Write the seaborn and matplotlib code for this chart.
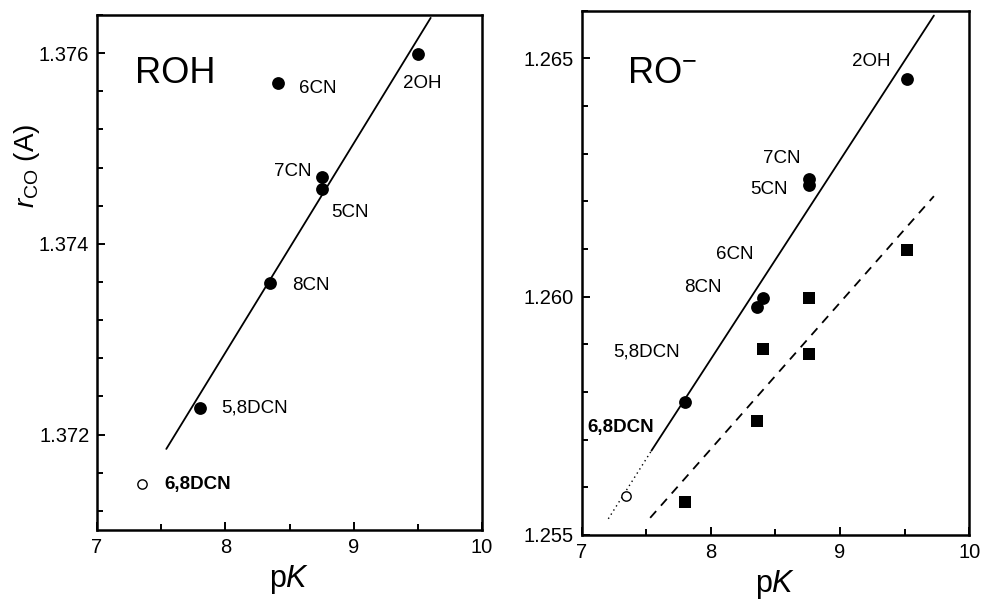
import numpy as np
import pandas as pd
import matplotlib
matplotlib.use('Agg')
import matplotlib.pyplot as plt
import seaborn as sns
from matplotlib.ticker import MultipleLocator, FormatStrFormatter

sns.set_theme(style='white')
plt.rcParams['font.family'] = ['Liberation Sans', 'DejaVu Sans']
plt.rcParams['mathtext.fontset'] = 'custom'
plt.rcParams['mathtext.rm'] = 'Liberation Sans'
plt.rcParams['mathtext.it'] = 'Liberation Sans:italic'
plt.rcParams['mathtext.bf'] = 'Liberation Sans:bold'
plt.rcParams['text.color'] = 'black'
plt.rcParams['axes.labelcolor'] = 'black'
plt.rcParams['xtick.color'] = 'black'
plt.rcParams['ytick.color'] = 'black'

# ---------------- data: ROH panel ----------------
roh_names = ['2OH', '6CN', '7CN', '5CN', '8CN', '5,8DCN']
roh_pk = [9.50, 8.41, 8.75, 8.75, 8.35, 7.80]
roh_r = [1.37599, 1.37569, 1.37470, 1.37458, 1.37359, 1.37228]
roh_open_name = ['6,8DCN']
roh_open_pk = [7.35]
roh_open_r = [1.37148]
roh_fit_pk = [7.54, 9.60]
roh_fit_r = [1.37185, 1.37637]

# ---------------- data: RO- panel ----------------
ro_names = ['2OH', '7CN', '5CN', '6CN', '8CN', '5,8DCN']
ro_pk = [9.515, 8.76, 8.76, 8.405, 8.355, 7.80]
ro_r = [1.26456, 1.26248, 1.26235, 1.25998, 1.25978, 1.25780]
ro_open_name = ['6,8DCN']
ro_open_pk = [7.34]
ro_open_r = [1.25581]
ro_sq_pk = [9.515, 8.76, 8.40, 8.76, 8.355, 7.80]
ro_sq_r = [1.26098, 1.25998, 1.25890, 1.25879, 1.25740, 1.25570]
ro_fit_pk = [7.54, 9.726]
ro_fit_r = [1.25677, 1.26590]
ro_ext_pk = [7.206, 7.54]
ro_ext_r = [1.25534, 1.25677]
ro_sq_fit_pk = [7.53, 9.726]
ro_sq_fit_r = [1.25536, 1.26211]

# label placements (left edge, vertical centre) in data units
roh_label_pos = {'2OH': (9.384, 1.37568), '6CN': (8.572, 1.37563),
                 '7CN': (8.379, 1.37476), '5CN': (8.822, 1.37433),
                 '8CN': (8.521, 1.37356), '5,8DCN': (7.966, 1.37228),
                 '6,8DCN': (7.523, 1.37148)}
ro_label_pos = {'2OH': (9.089, 1.26494), '7CN': (8.406, 1.26290),
                '5CN': (8.308, 1.26224), '6CN': (8.039, 1.26089),
                '8CN': (7.792, 1.26020), '5,8DCN': (7.245, 1.25883),
                '6,8DCN': (7.044, 1.25726)}

fig = plt.figure(figsize=(9.82, 6.04), dpi=100)
ax1 = fig.add_axes([97/982, 1-530/604, 385/982, 515/604])
ax2 = fig.add_axes([581.7/982, 1-535/604, 387.6/982, 524.2/604])

FS_TICK = 14.5
FS_LAB = 13.5

def style(ax):
    for s in ax.spines.values():
        s.set_linewidth(1.8)
        s.set_color('black')
    ax.tick_params(axis='both', which='both', direction='in', top=False,
                   right=False, left=True, bottom=True, color='black',
                   width=1.4, labelsize=FS_TICK, labelcolor='black')
    ax.tick_params(axis='both', which='major', length=6)
    ax.tick_params(axis='both', which='minor', length=4)
    ax.tick_params(axis='y', which='both', pad=5.5)
    ax.tick_params(axis='x', which='both', pad=6)
    ax.xaxis.set_major_locator(MultipleLocator(1))
    ax.xaxis.set_minor_locator(MultipleLocator(0.5))
    ax.set_xlim(7, 10)
    ax.grid(False)
    ax.set_xlabel('p$K$', fontsize=22, labelpad=4, color='black')
    ax.set_facecolor('white')

# ---- left panel ----
sns.lineplot(x=roh_fit_pk, y=roh_fit_r, ax=ax1, color='black', lw=1.3)
sns.scatterplot(x=roh_pk, y=roh_r, ax=ax1, color='black', s=85, marker='o',
                edgecolor='black', linewidth=0, zorder=3)
sns.scatterplot(x=roh_open_pk, y=roh_open_r, ax=ax1, facecolor='white', s=45,
                marker='o', edgecolor='black', linewidth=1.0, zorder=3)
style(ax1)
ax1.set_ylim(1.371, 1.3764)
ax1.yaxis.set_major_locator(MultipleLocator(0.002))
ax1.yaxis.set_minor_locator(MultipleLocator(0.0004))
ax1.yaxis.set_major_formatter(FormatStrFormatter('%.3f'))
ax1.set_ylabel(r'$r_{\rm CO}$ (A)', fontsize=20, color='black')
ax1.yaxis.set_label_coords(-0.143, 0.707)
for name in roh_names + roh_open_name:
    x, y = roh_label_pos[name]
    ax1.text(x, y, name, fontsize=FS_LAB, ha='left', va='center',
             fontweight='bold' if name == '6,8DCN' else 'normal')
ax1.text(7.296, 1.37579, 'ROH', fontsize=26, ha='left', va='center')

# ---- right panel ----
sns.lineplot(x=ro_fit_pk, y=ro_fit_r, ax=ax2, color='black', lw=1.3)
sns.lineplot(x=ro_ext_pk, y=ro_ext_r, ax=ax2, color='black', lw=1.0,
             linestyle=(0, (1, 2.5)))
sns.lineplot(x=ro_sq_fit_pk, y=ro_sq_fit_r, ax=ax2, color='black', lw=1.3,
             linestyle=(0, (5, 4)))
sns.scatterplot(x=ro_pk, y=ro_r, ax=ax2, color='black', s=85, marker='o',
                edgecolor='black', linewidth=0, zorder=3)
sns.scatterplot(x=ro_sq_pk, y=ro_sq_r, ax=ax2, color='black', s=80, marker='s',
                edgecolor='black', linewidth=0, zorder=3)
sns.scatterplot(x=ro_open_pk, y=ro_open_r, ax=ax2, facecolor='white', s=45,
                marker='o', edgecolor='black', linewidth=1.0, zorder=3)
style(ax2)
ax2.set_ylim(1.255, 1.266)
ax2.yaxis.set_major_locator(MultipleLocator(0.005))
ax2.yaxis.set_minor_locator(MultipleLocator(0.001))
ax2.yaxis.set_major_formatter(FormatStrFormatter('%.3f'))
ax2.set_ylabel('')
for name in ro_names + ro_open_name:
    x, y = ro_label_pos[name]
    ax2.text(x, y, name, fontsize=FS_LAB, ha='left', va='center',
             fontweight='bold' if name == '6,8DCN' else 'normal')
ax2.text(7.348, 1.26468, 'RO$^{-}$', fontsize=26, ha='left', va='center')

fig.savefig('out.png', dpi=100, facecolor='white')
